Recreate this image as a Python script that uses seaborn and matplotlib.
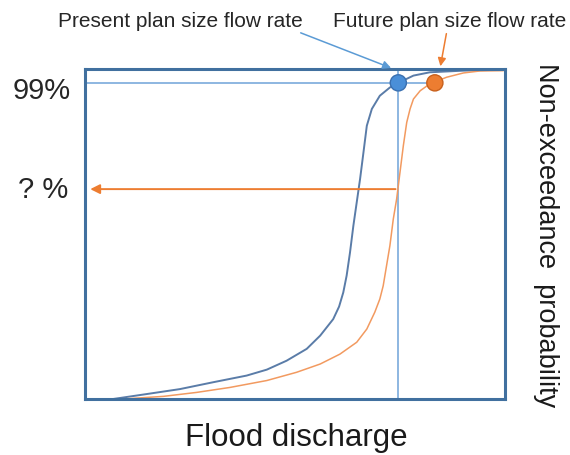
import pandas as pd
import matplotlib
matplotlib.use('Agg')
import matplotlib.pyplot as plt
import seaborn as sns

# curve: flood discharge (0-100 scale) vs non-exceedance probability
flow_present = [6.7, 14.7, 22.6, 30.6, 38.5, 43.3, 48.0, 52.8, 56.0, 59.1, 60.5, 61.5, 62.3, 63.1,
                63.9, 64.7, 65.5, 66.3, 67.1, 68.3, 70.2, 72.6, 74.6, 78.2, 82.1, 90.1, 99.6]
prob_present = [0.0, 0.015, 0.030, 0.051, 0.071, 0.089, 0.116, 0.152, 0.192, 0.242, 0.280, 0.323, 0.374, 0.444,
                0.525, 0.596, 0.667, 0.747, 0.828, 0.879, 0.919, 0.944, 0.958, 0.980, 0.990, 0.995, 0.998]

flow_future = [9.1, 18.7, 26.6, 34.5, 43.3, 50.4, 56.0, 60.7, 64.7, 67.1, 69.0, 70.2, 71.0, 71.8,
               72.6, 73.4, 74.2, 75.0, 75.8, 76.6, 77.4, 78.2, 79.8, 82.1, 86.1, 90.1, 94.0, 99.6]
prob_future = [0.0, 0.008, 0.020, 0.035, 0.056, 0.081, 0.106, 0.136, 0.172, 0.212, 0.263, 0.303, 0.343, 0.404,
               0.465, 0.545, 0.606, 0.687, 0.768, 0.838, 0.879, 0.909, 0.934, 0.955, 0.975, 0.988, 0.994, 0.995]

# design points
plan_level = 0.958
present_flow = 74.6
future_flow = 83.3
unknown_level = 0.636

labels_top = ['Present plan size flow rate', 'Future plan size flow rate']
level_labels = ['99%', '? %']
xlabel = 'Flood discharge'
ylabel = 'Non-exceedance  probability'

sns.set_style('white')
plt.rcParams['font.family'] = ['Liberation Sans', 'DejaVu Sans']

df_p = pd.DataFrame({'flow': flow_present, 'prob': prob_present})
df_f = pd.DataFrame({'flow': flow_future, 'prob': prob_future})
pts = pd.DataFrame({'flow': [present_flow, future_flow], 'prob': [plan_level, plan_level],
                    'case': ['present', 'future']})

fig = plt.figure(figsize=(5.7, 4.56), dpi=100)
ax = fig.add_axes([0.149, 0.1228, 0.737, 0.7237])

frame = '#41709f'
light_blue = '#6fa3d8'
orange = '#ed7d31'

sns.lineplot(data=df_p, x='flow', y='prob', ax=ax, color='#5a7ca8', lw=1.4, sort=False)
sns.lineplot(data=df_f, x='flow', y='prob', ax=ax, color='#f29a60', lw=1.1, sort=False)

# reference lines
ax.axvline(present_flow, color=light_blue, lw=1.1, zorder=1)
ax.plot([0, future_flow], [plan_level, plan_level], color=light_blue, lw=1.1, zorder=1)
ax.annotate('', xy=(0.6, unknown_level), xytext=(present_flow, unknown_level),
            arrowprops=dict(arrowstyle='-|>', color=orange, lw=1.4, mutation_scale=14))

sns.scatterplot(data=pts, x='flow', y='prob', hue='case', palette=['#4a8fd8', orange],
                s=135, ax=ax, legend=False, zorder=5, linewidth=1.0,
                edgecolor=['#3a70b0', '#c8601c'])

ax.set_xlim(0, 100)
ax.set_ylim(0, 1.0)
ax.set_xticks([])
ax.set_yticks([])
ax.set_xlabel('')
ax.set_ylabel('')
for s in ax.spines.values():
    s.set_color(frame)
    s.set_linewidth(2.2)

# arrows from the top labels
ax.annotate('', xy=(73.5, 1.0), xycoords='data', xytext=(0.523, 0.928), textcoords='figure fraction',
            arrowprops=dict(arrowstyle='-|>', color='#5b9bd5', lw=1.1, mutation_scale=12), annotation_clip=False)
ax.annotate('', xy=(84.5, 1.0), xycoords='data', xytext=(0.784, 0.930), textcoords='figure fraction',
            arrowprops=dict(arrowstyle='-|>', color=orange, lw=1.1, mutation_scale=12), annotation_clip=False)

fig.text(0.316, 0.952, labels_top[0], ha='center', va='center', fontsize=15, color='#262626')
fig.text(0.789, 0.952, labels_top[1], ha='center', va='center', fontsize=15, color='#262626')

fig.text(0.074, 0.800, level_labels[0], ha='center', va='center', fontsize=21, color='#262626')
fig.text(0.075, 0.583, level_labels[1], ha='center', va='center', fontsize=21, color='#262626')

fig.text(0.519, 0.040, xlabel, ha='center', va='center', fontsize=22.5, color='#1a1a1a')
fig.text(0.958, 0.485, ylabel, ha='center', va='center', fontsize=19.5, rotation=-90, color='#1a1a1a')

plt.savefig('out.png', dpi=100)
